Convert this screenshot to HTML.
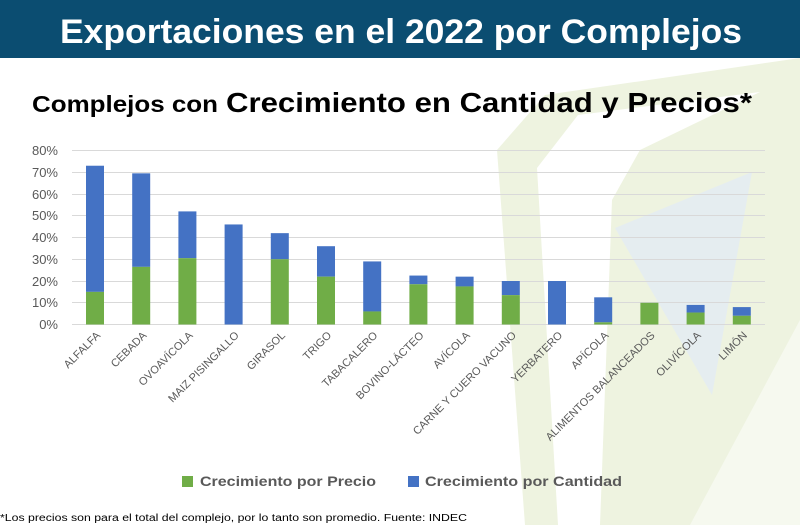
<!DOCTYPE html>
<html><head><meta charset="utf-8"><style>
html,body{margin:0;padding:0;background:#fff;}
svg{display:block;font-family:"Liberation Sans",sans-serif;}
</style></head><body>
<svg width="800" height="525" viewBox="0 0 800 525" xmlns="http://www.w3.org/2000/svg">
<rect width="800" height="525" fill="#fff"/>
<!-- watermark -->
<polygon points="497,150 545,95 800,58 800,525 525,525" fill="#eef3e0"/>
<polygon points="537,168 578,115 760,92 640,150 612,200 600,525 558,525" fill="#fff"/>
<polygon points="690,525 800,320 800,525" fill="#f6f9ef"/>
<polygon points="615,228 752,172 712,395" fill="#e5edf0"/>
<rect x="0" y="0" width="800" height="58" fill="#0b4d71"/>
<text x="60" y="43" fill="#fff" font-size="34" font-weight="bold" textLength="682" lengthAdjust="spacingAndGlyphs">Exportaciones en el 2022 por Complejos</text>
<text x="32" y="112" fill="#000" font-size="23" font-weight="bold" textLength="186" lengthAdjust="spacingAndGlyphs">Complejos con</text>
<text x="226" y="112" fill="#000" font-size="28" font-weight="bold" textLength="526" lengthAdjust="spacingAndGlyphs">Crecimiento en Cantidad y Precios*</text>
<g stroke="#d9d9d9" stroke-width="1">
<line x1="72" x2="765" y1="150.5" y2="150.5"/><line x1="72" x2="765" y1="172.5" y2="172.5"/>
<line x1="72" x2="765" y1="194.5" y2="194.5"/><line x1="72" x2="765" y1="215.5" y2="215.5"/>
<line x1="72" x2="765" y1="237.5" y2="237.5"/><line x1="72" x2="765" y1="259.5" y2="259.5"/>
<line x1="72" x2="765" y1="281.5" y2="281.5"/><line x1="72" x2="765" y1="302.5" y2="302.5"/>
<line x1="72" x2="765" y1="324.5" y2="324.5"/>
</g>
<g fill="#595959" font-size="13" text-anchor="end">
<text x="58" y="155">80%</text><text x="58" y="177">70%</text><text x="58" y="199">60%</text>
<text x="58" y="220">50%</text><text x="58" y="242">40%</text><text x="58" y="264">30%</text>
<text x="58" y="286">20%</text><text x="58" y="307">10%</text><text x="58" y="329">0%</text>
</g>
<g id="bars"></g>
<g id="labels" fill="#595959" font-size="11" text-anchor="end"></g>
<rect x="182" y="476" width="11" height="11" fill="#70ad47"/>
<text x="200" y="486" fill="#595959" font-size="14" font-weight="bold" textLength="176" lengthAdjust="spacingAndGlyphs">Crecimiento por Precio</text>
<rect x="408" y="476" width="11" height="11" fill="#4472c4"/>
<text x="425" y="486" fill="#595959" font-size="14" font-weight="bold" textLength="197" lengthAdjust="spacingAndGlyphs">Crecimiento por Cantidad</text>
<text x="0" y="521" fill="#000" font-size="10" textLength="467" lengthAdjust="spacingAndGlyphs">*Los precios son para el total del complejo, por lo tanto son promedio. Fuente: INDEC</text>
</svg>
<script>
var d=[["ALFALFA",73,15],["CEBADA",69.5,26.5],["OVOAVÍCOLA",52,30.5],["MAIZ PISINGALLO",46,0],["GIRASOL",42,30],["TRIGO",36,22],["TABACALERO",29,6],["BOVINO-LÁCTEO",22.5,18.5],["AVÍCOLA",22,17.5],["CARNE Y CUERO VACUNO",20,13.5],["YERBATERO",20,0],["APÍCOLA",12.5,1],["ALIMENTOS BALANCEADOS",10,10],["OLIVÍCOLA",9,5.5],["LIMÓN",8,4]];
var ns="http://www.w3.org/2000/svg",b=document.getElementById("bars"),l=document.getElementById("labels");
var y0=324.5,k=2.175;
d.forEach(function(r,i){var cx=95+i*46.2;
function rc(y,h,c){var e=document.createElementNS(ns,"rect");e.setAttribute("x",cx-9);e.setAttribute("y",y);e.setAttribute("width",18);e.setAttribute("height",h);e.setAttribute("fill",c);b.appendChild(e);}
rc(y0-r[1]*k,(r[1]-r[2])*k,"#4472c4");rc(y0-r[2]*k,r[2]*k,"#70ad47");
var t=document.createElementNS(ns,"text");t.setAttribute("x",cx+6);t.setAttribute("y",336);t.setAttribute("transform","rotate(-45 "+(cx+6)+" 336)");t.textContent=r[0];l.appendChild(t);});
</script>
</body></html>
